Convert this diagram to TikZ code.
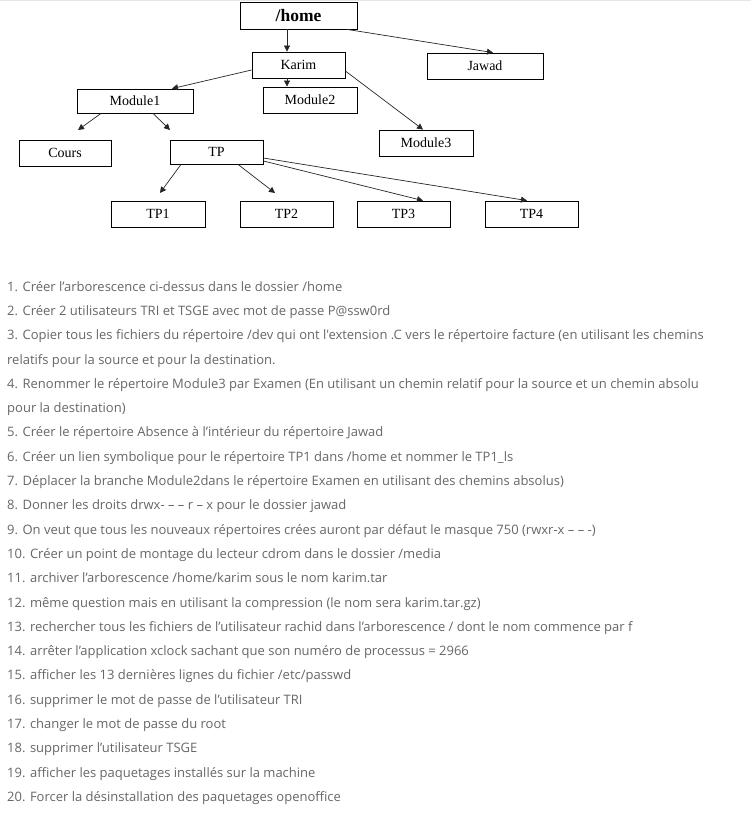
\documentclass[tikz,border=0pt]{standalone}
\usepackage{fontspec}
\setmainfont{Liberation Serif}
\newfontfamily\listfont{Open Sans}
\usetikzlibrary{arrows.meta}
\definecolor{listgray}{HTML}{666666}
\tikzset{
  dirbox/.style={draw, line width=0.8pt, inner sep=0pt, minimum height=26pt, font=\fontsize{14}{16}\selectfont},
  link/.style={-{Triangle[length=6pt,width=6pt]}, line width=0.7pt, draw=black!85}
}

\begin{document}
\begin{tikzpicture}[x=1pt,y=-1pt]
      \useasboundingbox (0,0) rectangle (751,824);
      \draw[black!10] (0,0.5) -- (751,0.5);
      % the tree
      \node[dirbox, minimum width=117pt, minimum height=27pt, font=\fontsize{17.5}{19}\selectfont\bfseries] (home) at (298.5,15.5) {/home};
      \node[dirbox, minimum width=93pt] (karim) at (298.5,65) {Karim};
      \node[dirbox, minimum width=116pt] (jawad) at (485,66) {Jawad};
      \node[dirbox, minimum width=116pt, minimum height=24pt] (module1) at (135,101) {Module1};
      \node[dirbox, minimum width=94pt] (module2) at (310,100) {Module2};
      \node[dirbox, minimum width=94pt] (module3) at (426,143) {Module3};
      \node[dirbox, minimum width=92pt] (cours) at (65,153) {Cours};
      \node[dirbox, minimum width=93pt, minimum height=24pt] (tp) at (216.5,152) {TP};
      \node[dirbox, minimum width=94pt] (tp1) at (158,214) {TP1};
      \node[dirbox, minimum width=93pt] (tp2) at (286.5,214) {TP2};
      \node[dirbox, minimum width=93pt] (tp3) at (403.5,214) {TP3};
      \node[dirbox, minimum width=93pt] (tp4) at (531.5,214) {TP4};
      % free arrow ends
      \coordinate (toCours) at (78,130);
      \coordinate (toTP) at (170,130);
      \coordinate (toTP1) at (160,193);
      \coordinate (toTP2) at (275,193);
      \draw[link] ([xshift=-11.5pt]home.south) -- ([xshift=-11.5pt]karim.north);
      \draw[link] ([xshift=48.5pt]home.south) -- ([xshift=8pt]jawad.north);
      \draw[link] ([yshift=-5pt]karim.west) -- ([xshift=37pt]module1.north);
      \draw[link] ([xshift=-11.5pt]karim.south) -- ([xshift=-23pt]module2.north);
      \draw[link] ([yshift=-6pt]karim.east) -- ([xshift=-3pt]module3.north);
      \draw[link] ([xshift=-34pt]module1.south) -- (toCours);
      \draw[link] ([xshift=18pt]module1.south) -- (toTP);
      \draw[link] ([xshift=-35.5pt]tp.south) -- (toTP1);
      \draw[link] ([xshift=21.5pt]tp.south) -- (toTP2);
      \draw[link] ([yshift=-9pt]tp.east) -- ([xshift=19.5pt]tp3.north);
      \draw[link] ([yshift=-6pt]tp.east) -- ([xshift=-4.5pt]tp4.north);
      % the questions
      \node[anchor=north west, align=left, inner sep=0pt, text=listgray,
            font=\listfont\fontsize{13}{24.3}\selectfont] (questions) at (7,281) {%
        1. Créer l’arborescence ci-dessus dans le dossier /home\\
        2. Créer 2 utilisateurs TRI et TSGE avec mot de passe P@ssw0rd\\
        3. Copier tous les fichiers du répertoire /dev qui ont l'extension .C vers le répertoire facture (en utilisant les chemins\\
        relatifs pour la source et pour la destination.\\
        4. Renommer le répertoire Module3 par Examen (En utilisant un chemin relatif pour la source et un chemin absolu\\
        pour la destination)\\
        5. Créer le répertoire Absence à l’intérieur du répertoire Jawad\\
        6. Créer un lien symbolique pour le répertoire TP1 dans /home et nommer le TP1\_ls\\
        7. Déplacer la branche Module2dans le répertoire Examen en utilisant des chemins absolus)\\
        8. Donner les droits drwx- – – r – x pour le dossier jawad\\
        9. On veut que tous les nouveaux répertoires crées auront par défaut le masque 750 (rwxr-x – – -)\\
        10. Créer un point de montage du lecteur cdrom dans le dossier /media\\
        11. archiver l’arborescence /home/karim sous le nom karim.tar\\
        12. même question mais en utilisant la compression (le nom sera karim.tar.gz)\\
        13. rechercher tous les fichiers de l’utilisateur rachid dans l’arborescence / dont le nom commence par f\\
        14. arrêter l’application xclock sachant que son numéro de processus = 2966\\
        15. afficher les 13 dernières lignes du fichier /etc/passwd\\
        16. supprimer le mot de passe de l’utilisateur TRI\\
        17. changer le mot de passe du root\\
        18. supprimer l’utilisateur TSGE\\
        19. afficher les paquetages installés sur la machine\\
        20. Forcer la désinstallation des paquetages openoffice};
    \end{tikzpicture}
\end{document}
